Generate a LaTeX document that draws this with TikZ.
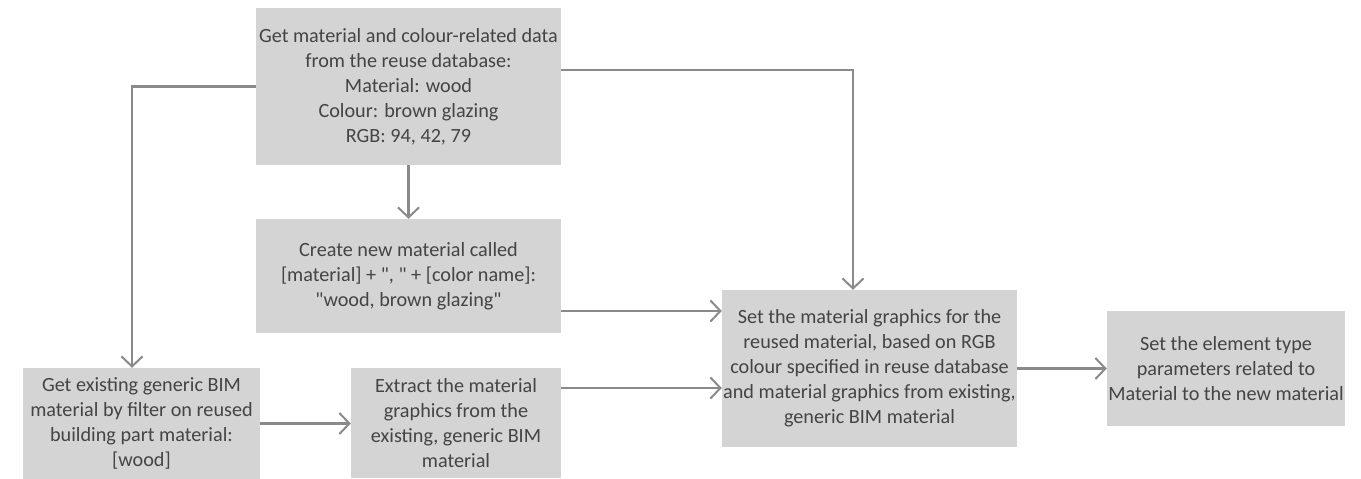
\documentclass[tikz,border=0pt]{standalone}
\usepackage{fontspec}
\setmainfont{Carlito}[Ligatures=TeXOff]
\usetikzlibrary{arrows.meta}
\definecolor{boxfill}{HTML}{D4D4D5}
\definecolor{linegray}{HTML}{8A8A8A}
\definecolor{txt}{HTML}{444444}
\tikzset{
  box/.style={fill=boxfill, draw=none, inner sep=0pt, align=center, text=txt,
    font=\fontsize{20.2}{25}\selectfont},
  conn/.style={draw=linegray, line width=2.2pt,
    -{Straight Barb[length=10pt,width=21pt,line width=2pt]}},
}
\begin{document}
\begin{tikzpicture}[x=1pt,y=1pt]
\useasboundingbox (0,0) rectangle (1361,-479);
\node[box, minimum width=305pt, minimum height=157pt] (top) at (408.5,-86.5)
  {Get material and colour-related data\\from the reuse database:\\Material: wood\\Colour: brown glazing\\RGB: 94, 42, 79};
\node[box, minimum width=305pt, minimum height=114pt] (create) at (408.5,-276)
  {Create new material called\\{[material]} + ", " + [color name]:\\"wood, brown glazing"};
\node[box, minimum width=237pt, minimum height=111pt] (exist) at (141.5,-423.5)
  {Get existing generic BIM\\material by filter on reused\\building part material:\\{[wood]}};
\node[box, minimum width=210pt, minimum height=110pt] (extract) at (456,-423)
  {Extract the material\\graphics from the\\existing, generic BIM\\material};
\node[box, minimum width=295pt, minimum height=157pt] (main) at (869.5,-368.5)
  {Set the material graphics for the\\reused material, based on RGB\\colour specified in reuse database\\and material graphics from existing,\\generic BIM material};
\node[box, minimum width=238pt, minimum height=115pt] (elem) at (1226,-368.5)
  {Set the element type\\parameters related to\\Material to the new material};

\draw[conn] (top.west) -| ([xshift=-9.5pt]exist.north);
\draw[conn] ([yshift=16.5pt]top.east) -| ([xshift=-16.5pt]main.north);
\draw[conn] (top.south) -- (create.north);
\draw[conn] ([yshift=-35pt]create.east) -- ([yshift=-35pt]create.east -| main.west);
\draw[conn] (exist.east) -- (exist.east -| extract.west);
\draw[conn] ([yshift=35pt]extract.east) -- ([yshift=35pt]extract.east -| main.west);
\draw[conn] (main.east) -- (elem.west);
\end{tikzpicture}
\end{document}
